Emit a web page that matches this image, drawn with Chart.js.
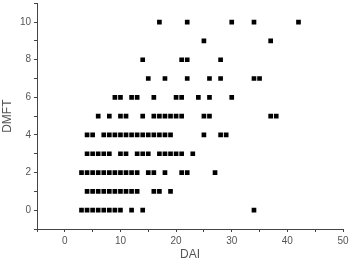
<!DOCTYPE html>
<html>
<head>
<meta charset="utf-8">
<script src="https://cdn.jsdelivr.net/npm/chart.js@4.4.1/dist/chart.umd.min.js"></script>
<style>
  html, body { margin: 0; padding: 0; background: #fff; }
  #wrap { width: 351px; height: 262px; }
</style>
</head>
<body>
<div id="wrap"><canvas id="scatter"></canvas></div>
<script>
// DMFT rows, each with the DAI values
var dmft0  = [3, 4, 5, 6, 7, 8, 9, 10, 12, 14, 34];
var dmft1  = [4, 5, 6, 7, 8, 9, 10, 11, 12, 13, 16, 17, 19];
var dmft2  = [3, 4, 5, 6, 7, 8, 9, 10, 11, 12, 13, 15, 16, 18, 21, 22, 27];
var dmft3  = [4, 5, 6, 7, 8, 10, 11, 13, 14, 15, 17, 18, 19, 20, 21, 23];
var dmft4  = [4, 5, 7, 8, 9, 10, 11, 12, 13, 14, 15, 16, 17, 18, 19, 25, 28, 29];
var dmft5  = [6, 8, 10, 11, 14, 16, 17, 18, 19, 20, 21, 25, 26, 37, 38];
var dmft6  = [9, 10, 12, 13, 16, 20, 21, 24, 26, 30];
var dmft7  = [15, 18, 22, 26, 28, 34, 35];
var dmft8  = [14, 21, 22, 28];
var dmft9  = [25, 37];
var dmft10 = [17, 22, 30, 34, 42];
var rows = [dmft0, dmft1, dmft2, dmft3, dmft4, dmft5, dmft6, dmft7, dmft8, dmft9, dmft10];

var xTicks = [0, 10, 20, 30, 40, 50];
var yTicks = [0, 2, 4, 6, 8, 10];

var points = [];
rows.forEach(function (row, yv) {
    row.forEach(function (xv) { points.push({ x: xv, y: yv }); });
});

var axisColor = '#444';
var textColor = '#555';

const ctx = document.getElementById('scatter').getContext('2d');
const chart = new Chart(ctx, {
    type: 'scatter',
    data: {
        datasets: [{
            label: 'DMFT',
            data: points,
            pointStyle: 'rect',
            pointRadius: 3.3,
            pointHoverRadius: 3.3,
            backgroundColor: '#000',
            borderColor: '#000',
            borderWidth: 0
        }]
    },
    options: {
        responsive: true,
        maintainAspectRatio: false,
        animation: false,
        layout: { padding: { top: 1, right: 8, left: 0, bottom: 0 } },
        plugins: {
            legend: { display: false },
            tooltip: { enabled: false }
        },
        scales: {
            x: {
                type: 'linear',
                min: -5,
                max: 50,
                border: { color: axisColor, width: 1 },
                grid: { drawOnChartArea: false, tickLength: 3, color: axisColor },
                ticks: {
                    stepSize: 5,
                    color: textColor,
                    padding: 3,
                    maxRotation: 0,
                    font: { family: 'Liberation Sans', size: 10 },
                    callback: function (v) { return xTicks.indexOf(v) >= 0 ? String(v) : ''; }
                },
                title: {
                    display: true,
                    text: 'DAI',
                    color: textColor,
                    padding: { top: 2, bottom: 0 },
                    font: { family: 'Liberation Sans', size: 12 }
                },
                afterFit: function (scale) {
                    scale.height = 33;
                    scale.paddingRight = 0;
                }
            },
            y: {
                type: 'linear',
                min: -1,
                max: 11,
                border: { color: axisColor, width: 1 },
                grid: { drawOnChartArea: false, tickLength: 3, color: axisColor },
                ticks: {
                    stepSize: 1,
                    color: textColor,
                    padding: 3,
                    font: { family: 'Liberation Sans', size: 10 },
                    callback: function (v) { return yTicks.indexOf(v) >= 0 ? String(v) : ''; }
                },
                title: {
                    display: true,
                    text: 'DMFT',
                    color: textColor,
                    padding: { top: 0, bottom: 4 },
                    font: { family: 'Liberation Sans', size: 12 }
                },
                afterFit: function (scale) {
                    scale.width = 37;
                    scale.paddingTop = 0;
                    scale.paddingBottom = 0;
                }
            }
        }
    }
});
</script>
</body>
</html>
